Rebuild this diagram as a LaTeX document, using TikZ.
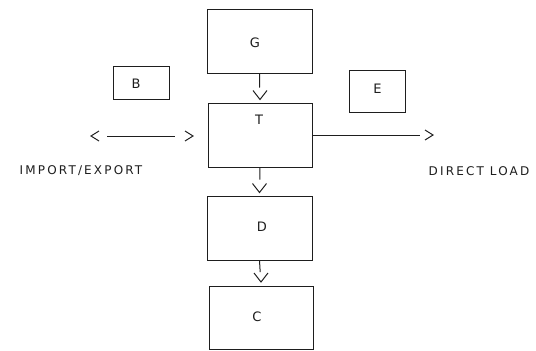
\documentclass[tikz,border=0pt]{standalone}
\usepackage{fontspec}
\newfontfamily\boxfont{DejaVu Sans}
\newfontfamily\capfont[LetterSpace=18]{DejaVu Sans}
\definecolor{ink}{HTML}{1E1E1E}
\begin{document}
\begin{tikzpicture}[x=1pt,y=-1pt,
  box/.style={draw=ink, line width=1pt, inner sep=0pt},
  conn/.style={draw=ink, line width=1pt},
  boxlbl/.style={inner sep=0pt, text=ink, font=\boxfont\fontsize{13}{13}\selectfont},
  sidelbl/.style={inner sep=0pt, text=ink, font=\capfont\fontsize{12}{12}\selectfont},
  pics/vtip/.style={code={\draw[conn] (-7,-9) -- (0,0) -- (7,-9);}},
  pics/htip/.style={code={\draw[conn] (-8,-5) -- (0,0) -- (-8,5);}}]
\useasboundingbox (0,0) rectangle (536,351);
\fill[white] (0,0) rectangle (536,351);

% main chain
\node[box, minimum width=105pt, minimum height=64pt] (G) at (259.5,41) {};
\node[box, minimum width=104pt, minimum height=64pt] (T) at (260,135) {};
\node[box, minimum width=105pt, minimum height=64pt] (D) at (259.5,228) {};
\node[box, minimum width=104pt, minimum height=63pt] (C) at (261,318) {};
% side boxes
\node[box, minimum width=56pt, minimum height=33pt] (B) at (141,82.5) {};
\node[box, minimum width=56pt, minimum height=42pt] (E) at (377,91) {};

% box letters
\node[boxlbl] (Gl) at (255,42.5) {G};
\node[boxlbl] (Tl) at (259,120) {T};
\node[boxlbl] (Dl) at (262,227) {D};
\node[boxlbl] (Cl) at (257,317) {C};
\node[boxlbl] (Bl) at (136,84) {B};
\node[boxlbl] (El) at (377.5,88.5) {E};

% vertical connectors, each with an open head set off from its line
\draw[conn, shorten >=15pt] (G.south) -- (T.north);
\pic at ([yshift=3pt]T.north) {vtip};
\draw[conn, shorten >=16pt] (T.south) -- (D.north);
\pic at ([yshift=3pt]D.north) {vtip};
\draw[conn, shorten >=14pt] (D.south) -- (C.north);
\pic at ([yshift=4pt]C.north) {vtip};

% direct load
\coordinate (dlend) at (433,135);
\draw[conn, shorten >=13pt] (T.east) -- (dlend);
\pic at (dlend) {htip};

% import / export
\coordinate (ieL) at (91,136);
\coordinate (ieR) at (193,136);
\draw[conn, shorten <=16pt, shorten >=18pt] (ieL) -- (ieR);
\pic at (ieR) {htip};
\pic[rotate=180] at (ieL) {htip};

\node[sidelbl] (imp) at (81,171) {IMPORT/EXPORT};
\node[sidelbl] (dlt) at (479,171) {DIRECT LOAD};
\end{tikzpicture}
\end{document}
